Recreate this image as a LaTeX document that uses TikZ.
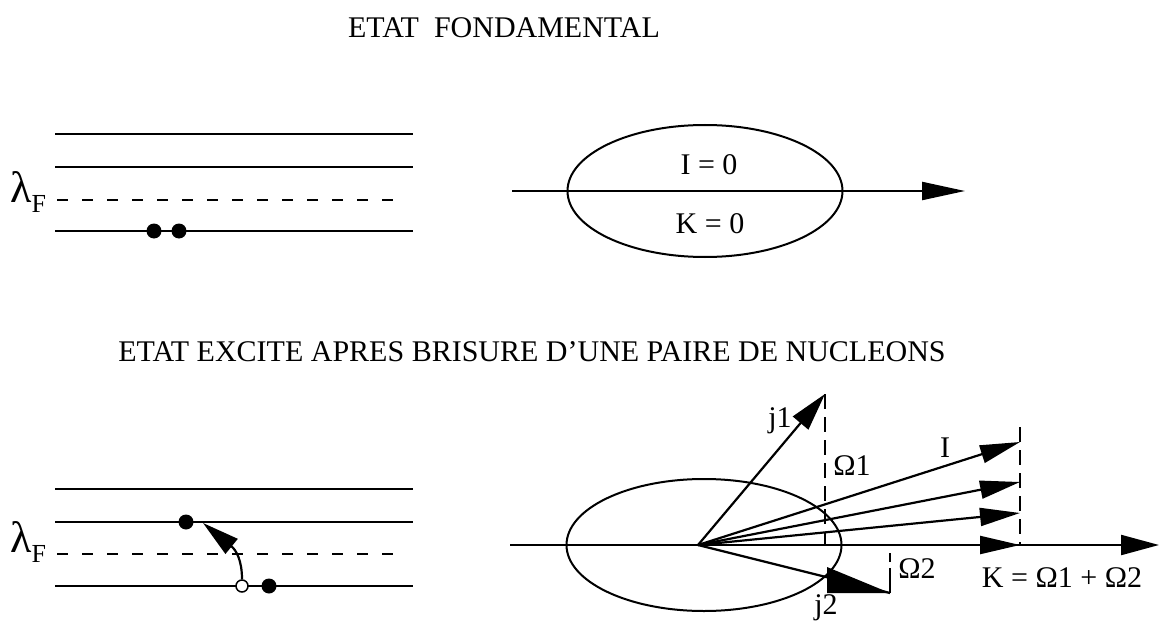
\documentclass[tikz,border=0pt]{standalone}
\usepackage{fontspec}
\setmainfont{Liberation Serif}
\usetikzlibrary{arrows.meta,shapes.geometric}
\begin{document}
\begin{tikzpicture}[x=1pt,y=-1pt,
  lvl/.style={line width=2.5pt},
  fermi/.style={line width=2pt, dash pattern=on 11pt off 14pt},
  proj/.style={line width=1.8pt, dash pattern=on 15pt off 8pt},
  vec/.style={line width=2.2pt},
  txt/.style={font=\fontsize{30}{36}\selectfont, inner sep=0pt, anchor=base},
  lam/.style={inner sep=0pt, anchor=base west},
  full/.style={circle, fill=black, minimum size=15pt, inner sep=0pt},
  hole/.style={circle, draw=black, fill=white, line width=1.5pt, minimum size=12pt, inner sep=0pt},
  nucl/.style={ellipse, draw, line width=2pt, minimum width=275pt, minimum height=132pt, inner sep=0pt},
  headA/.style={-{Triangle[length=43pt,width=18pt]}},
  headB/.style={-{Triangle[length=38pt,width=20pt]}},
  headI/.style={-{Triangle[length=40pt,width=18pt]}},
  headC/.style={-{Triangle[length=37pt,width=19pt]}},
]
\useasboundingbox[fill=white] (0,0) rectangle (1162,623);

% titles
\node[txt] (t1) at (504,38) {ETAT\ \ FONDAMENTAL};
\node[txt] (t2) at (532,361) {ETAT EXCITE APRES BRISURE D’UNE PAIRE DE NUCLEONS};

% ---------- ground state, levels ----------
\coordinate (a1) at (55,134);  \coordinate (b1) at (413,134);
\coordinate (a2) at (55,167);  \coordinate (b2) at (413,167);
\coordinate (af) at (57,200);  \coordinate (bf) at (407,200);
\coordinate (a3) at (55,231);  \coordinate (b3) at (413,231);
\draw[lvl] (a1) -- (b1);
\draw[lvl] (a2) -- (b2);
\draw[fermi] (af) -- (bf);
\draw[lvl] (a3) -- (b3);
\node[lam] (lf1) at (10,202) {\fontsize{44}{44}\selectfont λ\raisebox{-10pt}{\fontsize{26}{26}\selectfont F}};
\node[full] (d1) at (154,231) {};
\node[full] (d2) at (179,231) {};

% ---------- ground state, nucleus ----------
\node[nucl] (e1) at (705,191) {};
\coordinate (x1a) at (512,191);
\coordinate (x1b) at (965,191);
\draw[vec, headA] (x1a) -- (x1b);
\node[txt] (i0) at (709,175) {I = 0};
\node[txt] (k0) at (710,233) {K = 0};

% ---------- excited state, levels ----------
\coordinate (c1) at (55,489);  \coordinate (g1) at (413,489);
\coordinate (c2) at (55,522);  \coordinate (g2) at (413,522);
\coordinate (cf) at (57,554);  \coordinate (gf) at (407,554);
\coordinate (c3) at (55,586);  \coordinate (g3) at (413,586);
\draw[lvl] (c1) -- (g1);
\draw[lvl] (c2) -- (g2);
\draw[fermi] (cf) -- (gf);
\draw[lvl] (c3) -- (g3);
\node[lam] (lf2) at (10,552) {\fontsize{44}{44}\selectfont λ\raisebox{-10pt}{\fontsize{26}{26}\selectfont F}};
\node[full] (p1) at (186,522) {};
\node[hole] (h) at (242,586) {};
\node[full] (p2) at (269,586) {};
\coordinate (tipa) at (203,523);
\draw[vec, headC] (h.north) .. controls (242,560) and (236,550) .. (tipa);

% ---------- excited state, nucleus ----------
\node[nucl] (e2) at (704,545) {};
\coordinate (x2a) at (510,545);
\coordinate (x2b) at (1159,545);
\draw[vec, -{Triangle[length=38pt,width=20pt]}] (x2a) -- (x2b);
\coordinate (O) at (698,545);
% j1 and its projection
\coordinate (j1t) at (825,394);
\coordinate (om1) at (825,545);
\draw[vec, headB] (O) -- (j1t);
\draw[proj] (j1t) -- (om1);
% I vectors
\coordinate (it1) at (1020,442);
\coordinate (it2) at (1020,482);
\coordinate (it3) at (1020,513);
\coordinate (it4) at (1020,545);
\coordinate (itop) at (1020,427);
\draw[vec, headI] (O) -- (it1);
\draw[vec, headI] (O) -- (it2);
\draw[vec, headI] (O) -- (it3);
\draw[vec, headI] (O) -- (it4);
\draw[proj] (itop) -- (it4);
% j2
\coordinate (j2t) at (890,593);
\coordinate (j2a) at (827,567);
\coordinate (j2b) at (827,593);
\coordinate (om2) at (890,553);
\draw[vec] (O) -- (j2t);
\fill (j2a) -- (j2b) -- (j2t) -- cycle;
\draw[line width=1.8pt, dash pattern=on 25pt off 6pt] (j2t) -- (om2);

% labels
\node[txt] (lj1) at (780,427) {j1};
\node[txt] (lo1) at (852,475) {Ω1};
\node[txt] (lI) at (945,457) {I};
\node[txt] (lo2) at (917,578) {Ω2};
\node[txt] (lK) at (1062,587) {K = Ω1 + Ω2};
\node[txt] (lj2) at (826,614) {j2};
\end{tikzpicture}
\end{document}
